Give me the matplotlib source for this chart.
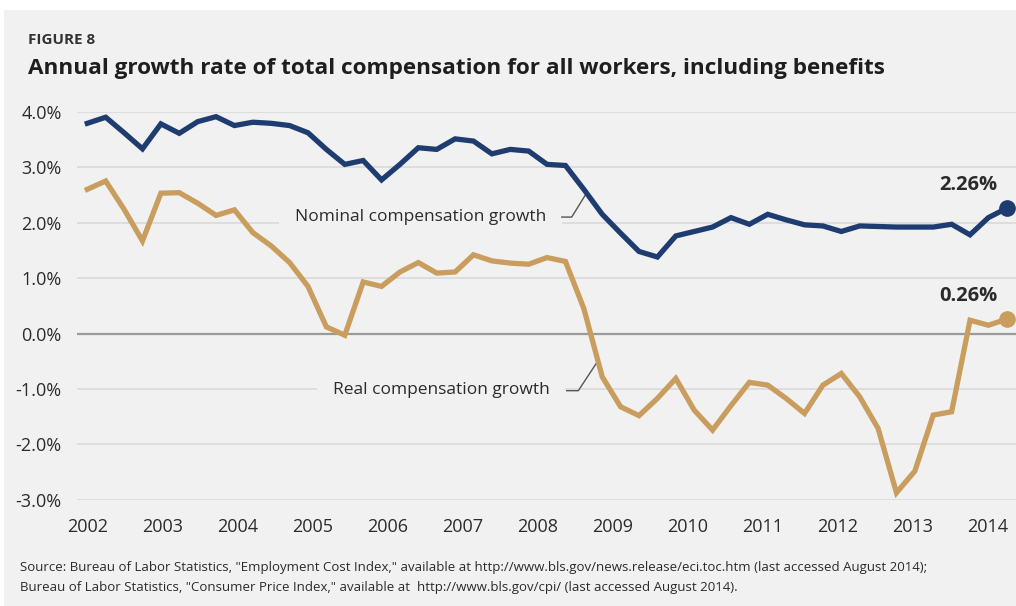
''' annual growth rate of total compensation, nominal vs real '''
import matplotlib
matplotlib.use('Agg')
import matplotlib.pyplot as plt
from matplotlib import font_manager
import numpy as np

# quarterly series, 2002 Q1 onward (percent)
nominal = [3.79, 3.90, 3.62, 3.33, 3.78, 3.61, 3.82, 3.91, 3.75, 3.81,
           3.79, 3.75, 3.62, 3.32, 3.05, 3.12, 2.77, 3.05, 3.35, 3.32,
           3.51, 3.47, 3.24, 3.32, 3.29, 3.05, 3.03, 2.60, 2.15, 1.81,
           1.48, 1.38, 1.76, 1.84, 1.92, 2.09, 1.97, 2.15, 2.05, 1.96,
           1.94, 1.84, 1.94, 1.93, 1.92, 1.92, 1.92, 1.97, 1.78, 2.09,
           2.26]
real = [2.60, 2.75, 2.24, 1.67, 2.53, 2.54, 2.35, 2.13, 2.23, 1.82,
        1.58, 1.28, 0.85, 0.12, -0.03, 0.93, 0.85, 1.11, 1.28, 1.09,
        1.11, 1.42, 1.31, 1.27, 1.25, 1.37, 1.30, 0.45, -0.78, -1.32,
        -1.48, -1.17, -0.81, -1.38, -1.74, -1.30, -0.88, -0.93, -1.17, -1.44,
        -0.93, -0.72, -1.14, -1.71, -2.87, -2.48, -1.47, -1.41, 0.24, 0.15,
        0.26]
years = list(range(2002, 2015))
y_ticks = [4.0, 3.0, 2.0, 1.0, 0.0, -1.0, -2.0, -3.0]

NAVY = '#1f3c70'
TAN = '#c99d5e'
BG = '#f1f1f1'
TXT = '#2b2b2b'


def pick_font(names):
    for n in names:
        try:
            font_manager.findfont(n, fallback_to_default=False)
            return n
        except Exception:
            pass
    return 'DejaVu Sans'

BODY = pick_font(['Open Sans', 'Noto Sans'])
NARROW = pick_font(['Liberation Sans Narrow', 'Open Sans'])

plt.rcParams['font.family'] = BODY

fig = plt.figure(figsize=(10.16, 6.06), dpi=100)
fig.patch.set_facecolor('white')
# grey panel behind everything
fig.patches.append(plt.Rectangle((0.004, 0), 0.996, 0.983, transform=fig.transFigure,
                                 facecolor=BG, edgecolor='none', zorder=-10))

ax = fig.add_axes([0.0758, 0.175, 0.9242, 0.6407])
ax.set_facecolor(BG)
ax.patch.set_alpha(0)

x = np.arange(len(nominal))
per_year = 4.08

for v in y_ticks:
    if v == 0:
        ax.axhline(v, color='#9a9a9a', linewidth=1.6, zorder=1)
    else:
        ax.axhline(v, color='#d9d9d9', linewidth=1.2, zorder=1)

ax.plot(x, nominal, color=NAVY, linewidth=3.8, solid_joinstyle='miter', zorder=4, clip_on=False)
ax.plot(x, real, color=TAN, linewidth=3.8, solid_joinstyle='miter', zorder=4, clip_on=False)
ax.plot(x[-1], nominal[-1], 'o', color=NAVY, markersize=11, zorder=5, clip_on=False)
ax.plot(x[-1], real[-1], 'o', color=TAN, markersize=11, zorder=5, clip_on=False)

ax.text(x[-1] - 2.1, nominal[-1] + 0.41, '%.2f%%' % nominal[-1], ha='center', va='center',
        fontsize=14.5, fontweight='bold', color=TXT, zorder=6, clip_on=False)
ax.text(x[-1] - 2.1, real[-1] + 0.42, '%.2f%%' % real[-1], ha='center', va='center',
        fontsize=14.5, fontweight='bold', color=TXT, zorder=6, clip_on=False)

# series labels with leader lines
ax.text(11.3, 2.10, 'Nominal compensation growth', ha='left', va='center', fontsize=12.5,
        color=TXT, zorder=3,
        bbox=dict(boxstyle='square,pad=0.9', facecolor=BG, edgecolor='none'))
ax.plot([25.8, 26.34, 27.16], [2.10, 2.10, 2.54], color='#555555', linewidth=1.0, zorder=3)
ax.text(13.36, -1.02, 'Real compensation growth', ha='left', va='center', fontsize=12.5,
        color=TXT, zorder=3,
        bbox=dict(boxstyle='square,pad=0.9', facecolor=BG, edgecolor='none'))
ax.plot([26.07, 26.7, 27.79], [-1.03, -1.03, -0.48], color='#555555', linewidth=1.0, zorder=3)

ax.set_xlim(-0.56, 50.5)
ax.set_ylim(-3.0, 4.0)
ax.set_xticks([(yr - years[0]) * per_year for yr in years])
ax.set_xticklabels([str(yr) for yr in years])
ax.set_yticks(y_ticks)
ax.set_yticklabels(['%.1f%%' % v for v in y_ticks])
ax.tick_params(axis='both', length=0, labelsize=13, colors=TXT)
ax.tick_params(axis='x', pad=13)
ax.tick_params(axis='y', pad=11)
for s in ax.spines.values():
    s.set_visible(False)

fig.text(0.0276, 0.934, 'FIGURE 8', fontsize=11, fontweight='bold', color='#333333',
         family=NARROW, va='center')
fig.text(0.0276, 0.887, 'Annual growth rate of total compensation for all workers, including benefits',
         fontsize=16.2, fontweight='bold', color='#1e1e1e', family=BODY, va='center')
fig.text(0.0197, 0.063,
         'Source: Bureau of Labor Statistics, "Employment Cost Index," available at '
         'http://www.bls.gov/news.release/eci.toc.htm (last accessed August 2014);',
         fontsize=9.5, color=TXT, family=NARROW, va='center')
fig.text(0.0197, 0.030,
         'Bureau of Labor Statistics, "Consumer Price Index," available at  '
         'http://www.bls.gov/cpi/ (last accessed August 2014).',
         fontsize=9.5, color=TXT, family=NARROW, va='center')

fig.savefig('out.png', dpi=100, facecolor=fig.get_facecolor())
